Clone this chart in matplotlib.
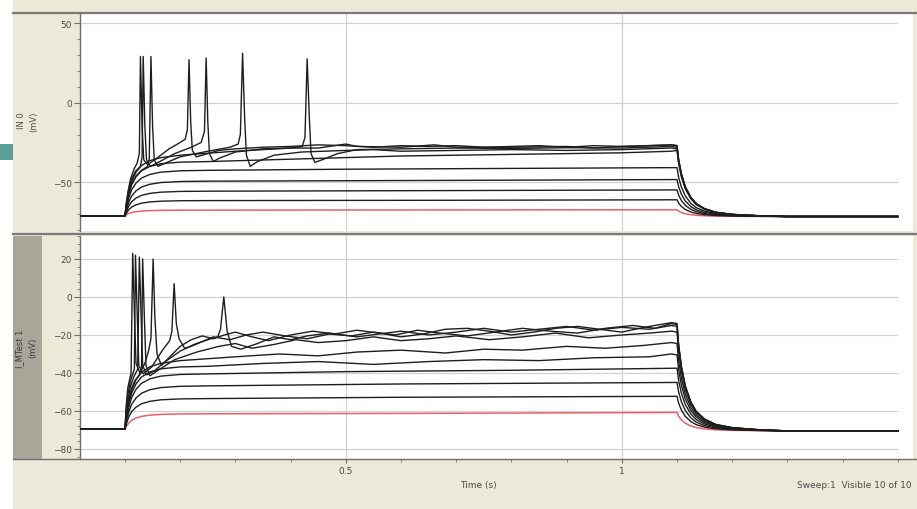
import matplotlib
matplotlib.use("Agg")
import matplotlib.pyplot as plt
from matplotlib.patches import Rectangle
from matplotlib.lines import Line2D
from matplotlib.ticker import MultipleLocator, FixedLocator

W, H = 917, 510

# ---- protocol timing (s) ----
T_START = 0.0185
STEP_ON, STEP_OFF, SWEEP_END = 0.1, 1.1, 1.5
X_LIMITS = (0.0185, 1.5275)

# passive charging / discharging time course, as a fraction of the step
RISE_DT = [0.0, 0.003, 0.007, 0.012, 0.02, 0.03, 0.045, 0.065, 0.1]
RISE_FRAC = [0.0, 0.2, 0.4, 0.57, 0.72, 0.83, 0.91, 0.96, 0.99]
FALL_DT = [0.0, 0.003, 0.008, 0.015, 0.025, 0.035, 0.05, 0.07, 0.1, 0.15, 0.2]
FALL_FRAC = [1.0, 0.8, 0.6, 0.42, 0.27, 0.18, 0.11, 0.06, 0.03, 0.01, 0.0]

# ---- channel IN 0 (mV): resting level before / after the step ----
IN0_REST = (-71.0, -71.5)
IN0_SWEEPS = [
    [(0.25, -67.5), (0.6, -67.4), (1.1, -67.3)],
    [(0.25, -61.5), (0.7, -61.3), (1.1, -61.0)],
    [(0.25, -55.6), (0.7, -55.2), (1.1, -54.8)],
    [(0.25, -49.3), (0.7, -48.8), (1.1, -48.3)],
    [(0.25, -42.5), (0.5, -41.8), (0.8, -41.3), (1.1, -40.8)],
    [(0.25, -37.0), (0.4, -35.5), (0.6, -33.5), (0.8, -32.5), (1.0, -31.5),
     (1.09, -30.5), (1.1, -30.0)],
    [(0.2, -33.0), (0.3, -30.5), (0.4, -28.5), (0.421, -27.5), (0.426, -22.0),
     (0.430, 27.5), (0.434, -10.0), (0.437, -32.0), (0.444, -37.5), (0.46, -35.5),
     (0.485, -32.0), (0.52, -29.5), (0.6, -29.0), (0.7, -28.5), (0.8, -28.8),
     (0.9, -28.3), (1.0, -28.5), (1.09, -27.5), (1.1, -28.0)],
    [(0.1, -71.0), (0.103, -64.0), (0.107, -57.0), (0.112, -51.0), (0.12, -46.0),
     (0.13, -42.5), (0.141, -40.0), (0.144, -35.0), (0.147, 29.0), (0.150, -15.0),
     (0.153, -36.0), (0.16, -40.0), (0.173, -38.0), (0.2, -34.0), (0.25, -30.5),
     (0.29, -28.0), (0.305, -26.0), (0.309, -20.0), (0.313, 31.0), (0.317, -12.0),
     (0.320, -33.0), (0.327, -40.0), (0.34, -37.0), (0.37, -33.0), (0.42, -31.0),
     (0.5, -30.0), (0.55, -29.5), (0.6, -30.5), (0.7, -30.0), (0.8, -29.5),
     (0.9, -30.0), (1.0, -29.5), (1.09, -28.5), (1.1, -29.0)],
    [(0.1, -71.0), (0.103, -62.0), (0.107, -54.0), (0.112, -48.0), (0.119, -43.0),
     (0.128, -40.0), (0.131, -34.0), (0.133, 29.0), (0.136, -15.0), (0.139, -36.0),
     (0.146, -40.0), (0.163, -37.0), (0.19, -32.0), (0.22, -28.0), (0.238, -25.0),
     (0.244, -18.0), (0.247, 28.0), (0.250, -12.0), (0.253, -32.0), (0.26, -37.0),
     (0.27, -35.0), (0.3, -31.0), (0.35, -29.0), (0.4, -28.5), (0.45, -28.5),
     (0.5, -26.0), (0.52, -27.5), (0.6, -28.0), (0.66, -26.5), (0.7, -28.0),
     (0.8, -28.0), (0.9, -27.5), (0.95, -28.5), (1.0, -27.5), (1.09, -26.5),
     (1.1, -27.0)],
    [(0.1, -71.0), (0.102, -64.0), (0.106, -55.0), (0.11, -48.0), (0.116, -42.0),
     (0.122, -38.0), (0.126, -32.0), (0.128, 29.0), (0.131, -15.0), (0.134, -36.0),
     (0.141, -39.0), (0.157, -35.0), (0.18, -29.0), (0.2, -25.0), (0.209, -23.0),
     (0.213, -17.0), (0.216, 27.0), (0.219, -12.0), (0.222, -30.0), (0.229, -34.0),
     (0.24, -33.0), (0.27, -30.0), (0.3, -29.0), (0.35, -28.0), (0.4, -27.5),
     (0.45, -26.5), (0.5, -27.0), (0.55, -28.0), (0.6, -27.0), (0.65, -27.5),
     (0.7, -27.0), (0.75, -28.0), (0.8, -27.5), (0.85, -27.0), (0.9, -28.0),
     (0.95, -27.0), (1.0, -27.5), (1.05, -27.0), (1.09, -26.5), (1.1, -27.0)],
]

# ---- channel I_MTest 1 (mV) ----
MTEST_REST = (-69.5, -70.5)
MTEST_SWEEPS = [
    [(0.25, -61.5), (0.6, -61.3), (1.1, -60.8)],
    [(0.25, -53.5), (0.6, -52.8), (1.1, -52.3)],
    [(0.25, -46.8), (0.6, -45.8), (1.1, -45.0)],
    [(0.25, -40.5), (0.5, -39.3), (0.8, -38.6), (1.1, -37.5)],
    [(0.25, -36.5), (0.35, -35.0), (0.45, -34.0), (0.55, -35.5), (0.65, -34.0),
     (0.75, -33.0), (0.85, -33.5), (0.95, -32.0), (1.05, -31.5), (1.09, -30.0),
     (1.1, -30.5)],
    [(0.2, -33.5), (0.3, -31.5), (0.38, -30.0), (0.45, -31.0), (0.52, -29.0),
     (0.6, -28.0), (0.68, -29.5), (0.75, -27.5), (0.82, -28.0), (0.9, -26.0),
     (0.97, -27.0), (1.04, -25.5), (1.09, -24.0), (1.1, -24.5)],
    [(0.1, -69.5), (0.103, -62.0), (0.107, -54.0), (0.112, -48.0), (0.118, -44.0),
     (0.126, -41.0), (0.130, -37.0), (0.132, 20.0), (0.135, -10.0), (0.138, -36.0),
     (0.145, -41.5), (0.163, -38.0), (0.19, -33.0), (0.23, -29.0), (0.27, -26.0),
     (0.3, -24.5), (0.33, -27.0), (0.37, -25.0), (0.41, -22.5), (0.45, -24.0),
     (0.5, -23.0), (0.55, -21.0), (0.6, -23.0), (0.65, -22.0), (0.7, -20.5),
     (0.76, -22.5), (0.82, -21.0), (0.88, -19.0), (0.94, -21.5), (1.0, -20.0),
     (1.05, -19.0), (1.09, -18.0), (1.1, -18.5)],
    [(0.1, -69.5), (0.102, -62.0), (0.106, -53.0), (0.11, -47.0), (0.116, -42.0),
     (0.123, -38.0), (0.126, 21.0), (0.129, -8.0), (0.132, -36.0), (0.139, -41.0),
     (0.153, -39.0), (0.173, -34.0), (0.2, -28.5), (0.225, -25.0), (0.25, -22.5),
     (0.268, -21.0), (0.273, -17.0), (0.279, 0.0), (0.285, -18.0), (0.293, -26.0),
     (0.31, -27.5), (0.34, -24.5), (0.37, -21.0), (0.4, -22.5), (0.43, -20.5),
     (0.47, -19.0), (0.52, -21.0), (0.56, -19.5), (0.6, -18.0), (0.65, -20.0),
     (0.7, -18.5), (0.75, -16.5), (0.8, -18.5), (0.85, -17.0), (0.9, -15.5),
     (0.95, -17.5), (1.0, -16.0), (1.05, -17.0), (1.09, -15.0), (1.1, -15.5)],
    [(0.1, -69.5), (0.102, -60.0), (0.106, -50.0), (0.11, -44.0), (0.117, -38.0),
     (0.119, 22.0), (0.122, -8.0), (0.125, -36.0), (0.133, -40.5), (0.148, -37.0),
     (0.168, -28.0), (0.181, -23.0), (0.185, -18.0), (0.189, 7.0), (0.193, -14.0),
     (0.198, -22.0), (0.208, -27.0), (0.22, -26.0), (0.24, -23.5), (0.26, -21.0),
     (0.29, -22.5), (0.32, -20.0), (0.35, -18.5), (0.39, -20.5), (0.43, -22.0),
     (0.47, -19.5), (0.51, -20.5), (0.55, -18.5), (0.59, -20.0), (0.63, -17.5),
     (0.67, -19.0), (0.72, -20.5), (0.77, -18.5), (0.82, -16.5), (0.87, -18.0),
     (0.92, -19.0), (0.97, -16.5), (1.02, -15.0), (1.06, -16.5), (1.09, -14.0),
     (1.1, -14.5)],
    [(0.1, -69.5), (0.102, -58.0), (0.105, -48.0), (0.111, -40.0), (0.114, 23.0),
     (0.117, -8.0), (0.120, -35.0), (0.127, -40.0), (0.136, -35.0), (0.143, -28.0),
     (0.147, -22.0), (0.151, 20.0), (0.154, -10.0), (0.158, -30.0), (0.166, -36.0),
     (0.183, -31.0), (0.2, -26.0), (0.22, -22.5), (0.24, -20.5), (0.26, -22.0),
     (0.28, -20.0), (0.3, -18.5), (0.33, -21.0), (0.36, -23.0), (0.4, -20.0),
     (0.44, -18.0), (0.48, -19.5), (0.52, -17.5), (0.56, -19.0), (0.6, -21.0),
     (0.64, -19.5), (0.68, -17.0), (0.72, -16.5), (0.76, -18.0), (0.8, -20.0),
     (0.84, -18.5), (0.88, -16.5), (0.92, -15.5), (0.96, -17.0), (1.0, -18.5),
     (1.04, -16.0), (1.09, -13.5), (1.1, -14.0)],
]

IN0_YTICKS = [50, 0, -50]
IN0_YLIM = (-80.6, 56.3)
MTEST_YTICKS = [20, 0, -20, -40, -60, -80]
MTEST_YLIM = (-85.3, 32.1)
X_TICKS = [0.5, 1.0]
X_TICKLABELS = ["0.5", "1"]

BEIGE = "#ECE9D8"
GRID = "#D2D2D2"
SPINE = "#6E6E6E"
TEXT = "#4A4A4A"
TRACE = "#1E1E1E"
RED = "#E8606E"


def sweep_xy(knots, rest):
    rest_pre, rest_post = rest
    t0, v0 = knots[0]
    ts, vs = [T_START, STEP_ON], [rest_pre, rest_pre]
    for dt, f in zip(RISE_DT[1:], RISE_FRAC[1:]):
        if STEP_ON + dt < t0 - 1e-9:
            ts.append(STEP_ON + dt)
            vs.append(rest_pre + f * (v0 - rest_pre))
    for t, v in knots:
        ts.append(t)
        vs.append(v)
    t1, v1 = knots[-1]
    for dt, f in zip(FALL_DT[1:], FALL_FRAC[1:]):
        ts.append(t1 + dt)
        vs.append(rest_post + f * (v1 - rest_post))
    ts.append(SWEEP_END)
    vs.append(rest_post)
    return ts, vs


def px_rect(fig, x, y, w, h, color, z=0):
    fig.add_artist(Rectangle((x / W, 1 - (y + h) / H), w / W, h / H,
                             transform=fig.transFigure, facecolor=color,
                             edgecolor="none", zorder=z))


def px_hline(fig, y, x0, x1, color, lw, z=5):
    fig.add_artist(Line2D([x0 / W, x1 / W], [1 - y / H, 1 - y / H],
                          transform=fig.transFigure, color=color, lw=lw, zorder=z))


fig = plt.figure(figsize=(W / 100, H / 100), dpi=100, facecolor=BEIGE)

# window chrome
px_rect(fig, 0, 0, 13, H, "white", z=1)
px_rect(fig, 0, 145, 13, 16, "#5A9E98", z=2)
px_rect(fig, 13, 237, 29, 223, "#A9A699", z=1)

ax_top = fig.add_axes([80 / W, 1 - 232 / H, 833 / W, 218 / H])
ax_bot = fig.add_axes([80 / W, 1 - 460 / H, 833 / W, 223 / H])


def style_axes(ax, yticks, ylim, minor_step):
    ax.set_facecolor("white")
    ax.set_xlim(*X_LIMITS)
    ax.set_ylim(*ylim)
    for s in ("top", "right", "bottom"):
        ax.spines[s].set_visible(False)
    ax.spines["left"].set_color(SPINE)
    ax.spines["left"].set_linewidth(1.0)
    ax.yaxis.set_major_locator(FixedLocator(yticks))
    ax.yaxis.set_minor_locator(MultipleLocator(minor_step))
    ax.tick_params(axis="y", which="major", length=4, width=0.8, color=SPINE,
                   labelsize=6.5, labelcolor=TEXT, pad=2)
    ax.tick_params(axis="y", which="minor", length=2, width=0.6, color=SPINE)
    for v in yticks:
        ax.hlines(v, X_LIMITS[0], SWEEP_END, color=GRID, lw=0.9, zorder=1)
    for t in X_TICKS:
        ax.axvline(t, color=GRID, lw=0.9, zorder=1)


style_axes(ax_top, IN0_YTICKS, IN0_YLIM, 10)
style_axes(ax_bot, MTEST_YTICKS, MTEST_YLIM, 4)

ax_top.set_xticks([])
ax_bot.xaxis.set_major_locator(FixedLocator(X_TICKS))
ax_bot.set_xticklabels(X_TICKLABELS)
ax_bot.xaxis.set_minor_locator(MultipleLocator(0.1))
ax_bot.tick_params(axis="x", which="major", length=3, width=0.8, color=SPINE,
                   labelsize=6.5, labelcolor=TEXT, pad=2)
ax_bot.tick_params(axis="x", which="minor", length=2, width=0.6, color=SPINE)

for ax, sweeps, rest in ((ax_top, IN0_SWEEPS, IN0_REST),
                         (ax_bot, MTEST_SWEEPS, MTEST_REST)):
    for i, knots in enumerate(sweeps):
        ts, vs = sweep_xy(knots, rest)
        ax.plot(ts, vs, color=RED if i == 0 else TRACE,
                lw=1.1 if i == 0 else 1.0, zorder=3 if i == 0 else 4,
                solid_joinstyle="round")

# frame lines
px_hline(fig, 13.5, 13, W, "#7A7A7A", 1.6)
px_hline(fig, 234.5, 13, W, "#7A7A7A", 1.6)
px_hline(fig, 460, 13, W, "#6E6E6E", 1.0)

# channel names
fig.text(21 / W, 1 - 121 / H, "IN 0", rotation=90, ha="center", va="center",
         fontsize=6, color=TEXT)
fig.text(34 / W, 1 - 122 / H, "(mV)", rotation=90, ha="center", va="center",
         fontsize=6, color=TEXT)
fig.text(20 / W, 1 - 349 / H, "I_MTest 1", rotation=90, ha="center", va="center",
         fontsize=6, color="#3A3A3A")
fig.text(33 / W, 1 - 348 / H, "(mV)", rotation=90, ha="center", va="center",
         fontsize=6, color="#3A3A3A")

fig.text(478 / W, 1 - 486 / H, "Time (s)", ha="center", va="center",
         fontsize=6.5, color=TEXT)
fig.text(797 / W, 1 - 486 / H, "Sweep:1  Visible 10 of 10", ha="left", va="center",
         fontsize=6.5, color=TEXT)

fig.savefig("out.png", dpi=100, facecolor=BEIGE)
